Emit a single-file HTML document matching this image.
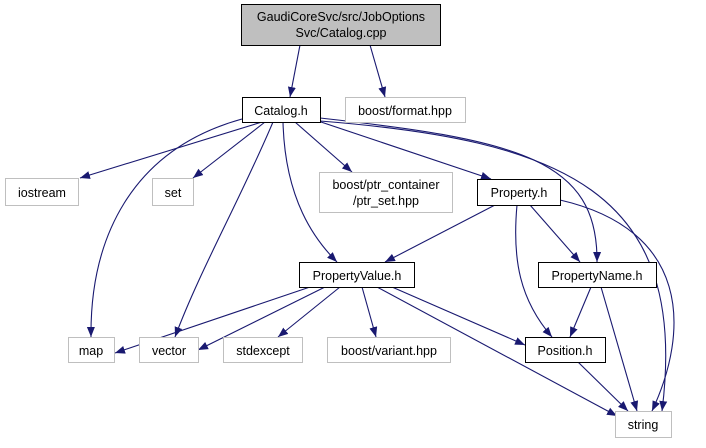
<!DOCTYPE html>
<html><head><meta charset="utf-8"><style>
body{margin:0;background:#fff}
svg text{font-family:"Liberation Sans",sans-serif;font-size:12.5px;text-anchor:middle;fill:#000}
</style></head><body>
<svg width="706" height="443" viewBox="0 0 706 443" xmlns="http://www.w3.org/2000/svg">
<defs><marker id="a" viewBox="0 0 10 10" refX="10" refY="5" markerWidth="10" markerHeight="10" markerUnits="userSpaceOnUse" orient="auto"><path d="M0,1 L10,5 L0,9 z" fill="#191970"/></marker></defs>
<g fill="none" stroke="#191970" stroke-width="1.1" marker-end="url(#a)">
<path d="M300,45 L290,97"/>
<path d="M370,45 L385,97"/>
<path d="M262,122 L80,178"/>
<path d="M242,119 C130,150 90,240 91,337"/>
<path d="M265,122 L193,178"/>
<path d="M273,122 C240,200 200,270 175,337"/>
<path d="M283,122 C285,200 315,240 337,262"/>
<path d="M295,122 L352,172"/>
<path d="M318,121 L491,179"/>
<path d="M320,118 C520,140 598,160 597,262"/>
<path d="M320,121 C560,140 690,190 662,411"/>
<path d="M495,205 L385,262"/>
<path d="M530,205 L580,262"/>
<path d="M517,205 C512,260 520,300 552,337"/>
<path d="M560,200 C690,230 690,330 652,411"/>
<path d="M310,287 L115,353"/>
<path d="M325,287 L198,350"/>
<path d="M340,287 L278,337"/>
<path d="M362,287 L376,337"/>
<path d="M377,287 L617,416"/>
<path d="M392,287 L525,345"/>
<path d="M591,287 L570,337"/>
<path d="M601,287 L637,411"/>
<path d="M578,362 L628,411"/>
</g>
<g stroke-width="1">
<rect x="241.5" y="4.5" width="199" height="41" fill="#bfbfbf" stroke="#000"/>
<rect x="242.5" y="97.5" width="78" height="25" fill="#fff" stroke="#000"/>
<rect x="345.5" y="97.5" width="120" height="25" fill="#fff" stroke="#bfbfbf"/>
<rect x="5.5" y="178.5" width="73" height="27" fill="#fff" stroke="#bfbfbf"/>
<rect x="152.5" y="178.5" width="41" height="27" fill="#fff" stroke="#bfbfbf"/>
<rect x="319.5" y="172.5" width="133" height="40" fill="#fff" stroke="#bfbfbf"/>
<rect x="477.5" y="179.5" width="83" height="26" fill="#fff" stroke="#000"/>
<rect x="299.5" y="262.5" width="115" height="25" fill="#fff" stroke="#000"/>
<rect x="538.5" y="262.5" width="118" height="25" fill="#fff" stroke="#000"/>
<rect x="68.5" y="337.5" width="46" height="25" fill="#fff" stroke="#bfbfbf"/>
<rect x="139.5" y="337.5" width="59" height="25" fill="#fff" stroke="#bfbfbf"/>
<rect x="223.5" y="337.5" width="79" height="25" fill="#fff" stroke="#bfbfbf"/>
<rect x="327.5" y="337.5" width="123" height="25" fill="#fff" stroke="#bfbfbf"/>
<rect x="525.5" y="337.5" width="80" height="25" fill="#fff" stroke="#000"/>
<rect x="615.5" y="411.5" width="56" height="26" fill="#fff" stroke="#bfbfbf"/>
</g>
<text x="341" y="21">GaudiCoreSvc/src/JobOptions</text>
<text x="341" y="37">Svc/Catalog.cpp</text>
<text x="281" y="115">Catalog.h</text>
<text x="405" y="115">boost/format.hpp</text>
<text x="42" y="197">iostream</text>
<text x="173" y="197">set</text>
<text x="386" y="189">boost/ptr_container</text>
<text x="386" y="205">/ptr_set.hpp</text>
<text x="519" y="197">Property.h</text>
<text x="357" y="280">PropertyValue.h</text>
<text x="597" y="280">PropertyName.h</text>
<text x="91" y="355">map</text>
<text x="169" y="355">vector</text>
<text x="263" y="355">stdexcept</text>
<text x="389" y="355">boost/variant.hpp</text>
<text x="565" y="355">Position.h</text>
<text x="643" y="429">string</text>
</svg>
</body></html>
